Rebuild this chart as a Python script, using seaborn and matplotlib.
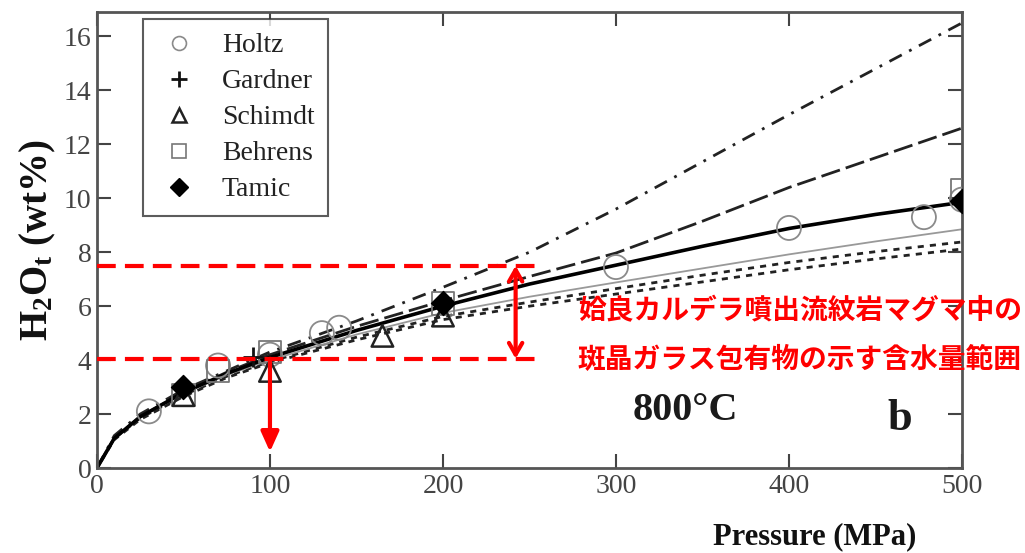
import matplotlib
matplotlib.use("Agg")
import matplotlib.pyplot as plt
from matplotlib.lines import Line2D
import pandas as pd
import seaborn as sns

# ---- model curves: dissolved water (wt%) vs pressure (MPa) at 800 C ----
pressure = [0, 10, 25, 50, 75, 100, 150, 200, 250, 300, 350, 400, 450, 500]
curve_solid = [0, 1.1, 1.9, 2.8, 3.5, 4.1, 5.1, 6.0, 6.82, 7.52, 8.22, 8.88, 9.4, 9.85]
curve_dashdot = [0, 1.2, 2.0, 2.9, 3.6, 4.3, 5.45, 6.7, 8.0, 9.6, 11.35, 13.1, 14.8, 16.5]
curve_longdash = [0, 1.1, 1.9, 2.8, 3.55, 4.2, 5.25, 6.2, 7.1, 7.97, 9.15, 10.4, 11.5, 12.6]
curve_thin = [0, 1.1, 1.9, 2.75, 3.45, 4.0, 4.95, 5.75, 6.35, 6.88, 7.4, 7.92, 8.4, 8.85]
curve_dot1 = [0, 1.1, 1.85, 2.7, 3.4, 3.95, 4.85, 5.62, 6.15, 6.65, 7.15, 7.62, 8.02, 8.38]
curve_dot2 = [0, 1.05, 1.8, 2.65, 3.35, 3.9, 4.75, 5.5, 6.0, 6.45, 6.9, 7.35, 7.75, 8.12]

# ---- experimental data ----
holtz_p = [30, 70, 100, 130, 140, 300, 400, 478, 500]
holtz_w = [2.1, 3.8, 4.2, 5.0, 5.2, 7.45, 8.9, 9.3, 9.95]
gardner_p = [50, 90]
gardner_w = [3.0, 4.1]
schmidt_p = [50, 100, 165, 200]
schmidt_w = [2.7, 3.6, 4.9, 5.65]
behrens_p = [50, 70, 100, 200, 500]
behrens_w = [2.7, 3.6, 4.3, 6.1, 10.3]
tamic_p = [50, 200, 500]
tamic_w = [3.0, 6.1, 9.9]

# ---- melt-inclusion water range (Aira caldera rhyolite) ----
range_low = 4.05
range_high = 7.5
range_pressure = 100
range_arrow_x = 242
range_line_end = 257

x_ticks = [0, 100, 200, 300, 400, 500]
y_ticks = [0, 2, 4, 6, 8, 10, 12, 14, 16]

sns.set_theme(style="ticks")
plt.rcParams["font.family"] = ["Liberation Serif", "DejaVu Serif"]
plt.rcParams["mathtext.fontset"] = "custom"
plt.rcParams["mathtext.rm"] = "Liberation Serif"
plt.rcParams["mathtext.bf"] = "Liberation Serif:bold"
plt.rcParams["mathtext.it"] = "Liberation Serif:italic"

fig = plt.figure(figsize=(10.25, 5.53), dpi=100)
ax = fig.add_axes([0.0946, 0.1537, 0.8439, 0.8243])

curves = pd.DataFrame({
    "P": pressure,
    "solid": curve_solid,
    "dashdot": curve_dashdot,
    "longdash": curve_longdash,
    "thin": curve_thin,
    "dot1": curve_dot1,
    "dot2": curve_dot2,
})

line_styles = {
    "dot1": dict(color="#222222", lw=2.0, linestyle=(0, (2.2, 2.2))),
    "dot2": dict(color="#222222", lw=2.0, linestyle=(1.5, (2.2, 2.2))),
    "thin": dict(color="#999999", lw=1.3, linestyle="-"),
    "longdash": dict(color="#222222", lw=2.0, linestyle=(0, (7, 2.2))),
    "dashdot": dict(color="#222222", lw=2.0, linestyle=(0, (5, 3, 1, 3))),
    "solid": dict(color="black", lw=2.6, linestyle="-"),
}
for name, style in line_styles.items():
    sns.lineplot(data=curves, x="P", y=name, ax=ax, legend=False, **style)

# experimental points
sns.scatterplot(x=holtz_p, y=holtz_w, ax=ax, marker="o", s=300,
                facecolor="none", edgecolor="#8a8a8a", linewidth=1.3, zorder=4)
sns.scatterplot(x=behrens_p, y=behrens_w, ax=ax, marker="s", s=260,
                facecolor="none", edgecolor="#777777", linewidth=1.3, zorder=4)
sns.scatterplot(x=schmidt_p, y=schmidt_w, ax=ax, marker="^", s=240,
                facecolor="none", edgecolor="#222222", linewidth=1.8, zorder=4)
sns.scatterplot(x=gardner_p, y=gardner_w, ax=ax, marker="+", s=220,
                color="#111111", linewidth=2.0, zorder=5)
sns.scatterplot(x=tamic_p, y=tamic_w, ax=ax, marker="D", s=150,
                color="black", edgecolor="black", zorder=5)

# water content range highlighted in red
ax.plot([0, range_line_end], [range_high, range_high], color="red", lw=3,
        dashes=(4.5, 2.2), zorder=6)
ax.plot([0, range_line_end], [range_low, range_low], color="red", lw=3,
        dashes=(4.5, 2.2), zorder=6)
ax.annotate("", xy=(range_arrow_x, range_high), xytext=(range_arrow_x, range_low),
            arrowprops=dict(arrowstyle="<->,head_length=0.7,head_width=0.4",
                            color="red", lw=3, shrinkA=0, shrinkB=0), zorder=6)
ax.annotate("", xy=(range_pressure, 0.6), xytext=(range_pressure, range_low),
            arrowprops=dict(arrowstyle="-|>,head_length=1.0,head_width=0.45",
                            color="red", lw=3, shrinkA=0, shrinkB=0), zorder=6)

jp_font = ["Noto Sans CJK JP", "DejaVu Sans"]
ax.text(278, 5.8, "姶良カルデラ噴出流紋岩マグマ中の", color="red", fontsize=20,
        fontweight="bold", family=jp_font, va="center", ha="left", clip_on=False)
ax.text(278, 4.0, "斑晶ガラス包有物の示す含水量範囲", color="red", fontsize=20,
        fontweight="bold", family=jp_font, va="center", ha="left", clip_on=False)

ax.text(340, 2.15, "800°C", fontsize=29, fontweight="bold", ha="center",
        va="center", color="#1a1a1a")
ax.text(464, 1.8, "b", fontsize=32, fontweight="bold", ha="center",
        va="center", color="#1a1a1a")

# axes, ticks, labels
ax.set_xlim(0, 500)
ax.set_ylim(0, 16.9)
ax.set_xticks(x_ticks)
ax.set_yticks(y_ticks)
ax.tick_params(direction="in", length=10, width=1.5, color="#444444",
               labelsize=20, labelcolor="#444444", top=True, right=True, pad=4)
for sp in ax.spines.values():
    sp.set_visible(True)
    sp.set_color("#555555")
    sp.set_linewidth(2.0)
ax.set_xlabel("")
ax.set_ylabel(r"$\mathbf{H_2O_t}$ (wt%)", fontsize=28, fontweight="bold",
              labelpad=4, color="#111111")
fig.text(0.795, 0.029, "Pressure (MPa)", fontsize=22, fontweight="bold",
         ha="center", va="center", color="#111111")

handles = [
    Line2D([], [], ls="none", marker="o", ms=10, mfc="none", mec="#8a8a8a", mew=1.2),
    Line2D([], [], ls="none", marker="+", ms=12, color="#111111", mew=2.0),
    Line2D([], [], ls="none", marker="^", ms=10, mfc="none", mec="#222222", mew=1.8),
    Line2D([], [], ls="none", marker="s", ms=10, mfc="none", mec="#777777", mew=1.2),
    Line2D([], [], ls="none", marker="D", ms=9, color="black"),
]
labels = ["Holtz", "Gardner", "Schimdt", "Behrens", "Tamic"]
leg = ax.legend(handles, labels, loc="upper left", bbox_to_anchor=(0.053, 0.985),
                borderaxespad=0, frameon=True, fancybox=False, fontsize=20,
                labelspacing=0.38, handletextpad=0.75, handlelength=1.6,
                borderpad=0.5)
leg.get_frame().set_edgecolor("#333333")
leg.get_frame().set_linewidth(1.5)
for t in leg.get_texts():
    t.set_color("#222222")

fig.savefig("out.png", dpi=100)
